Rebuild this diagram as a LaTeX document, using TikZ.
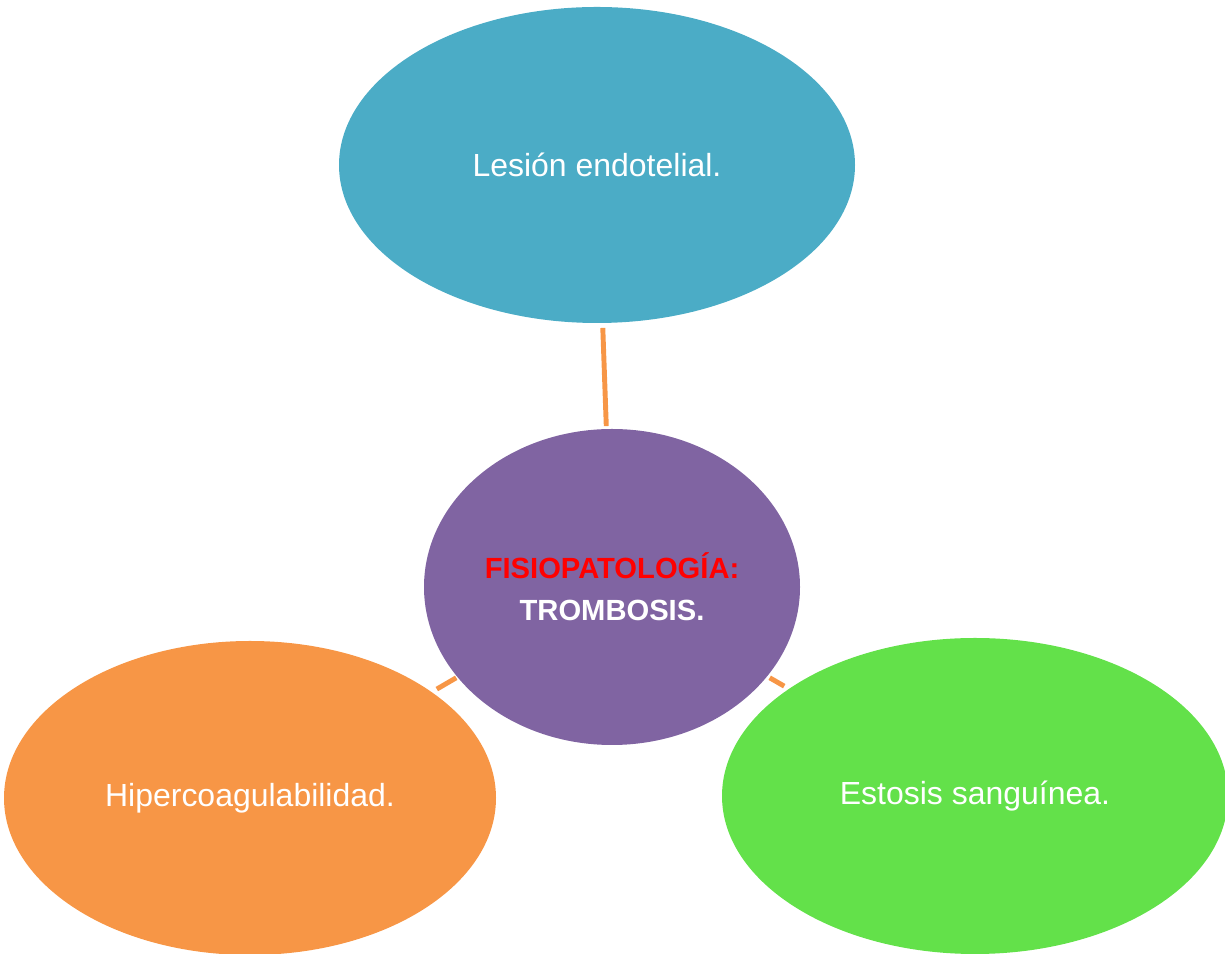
\documentclass[tikz,border=0pt]{standalone}
\usepackage{fontspec}
\setmainfont{Liberation Sans}
\usepackage{tikz}
\usetikzlibrary{shapes,calc,positioning}
\usepackage{xcolor}
\definecolor{mteal}{HTML}{4BACC6}
\definecolor{mpurple}{HTML}{8064A2}
\definecolor{morange}{HTML}{F79646}
\definecolor{mgreen}{HTML}{63E14A}
\definecolor{mred}{HTML}{FF0000}
\tikzstyle{blob}=[ellipse, draw=none, inner sep=0pt, outer sep=0pt, text=white, font=\fontsize{18.2}{22}\selectfont]
\tikzstyle{hub}=[blob, align=center, font=\fontsize{16.6}{23.8}\selectfont\bfseries]
\tikzstyle{l1}=[line width=2.8pt, color=morange]

\begin{document}
\begin{tikzpicture}
    \useasboundingbox (0,0) rectangle (24.5,19.08);
    \clip (0,0) rectangle (24.5,19.08);

    \node (lesion) [blob, fill=mteal, minimum width=10.32cm, minimum height=6.32cm] at (11.94,15.78) {Lesión endotelial.};
    \node (fisio) [hub, fill=mpurple, minimum width=7.52cm, minimum height=6.32cm] at (12.24,7.34) {\textcolor{mred}{FISIOPATOLOGÍA:}\\TROMBOSIS.};
    \node (hiper) [blob, fill=morange, minimum width=9.84cm, minimum height=6.28cm] at (5.0,3.12) {\raisebox{-0.08cm}{Hipercoagulabilidad.}};
    \node (estasis) [blob, fill=mgreen, minimum width=10.12cm, minimum height=6.32cm] at (19.5,3.16) {Estosis sanguínea.};

    \draw[l1, shorten <=0.1cm, shorten >=0.06cm] (lesion) -- (fisio);
    \draw[l1, shorten <=0.12cm, shorten >=0.03cm] (hiper) -- (fisio);
    \draw[l1, shorten <=0.11cm, shorten >=0.06cm] (estasis) -- (fisio);
\end{tikzpicture}
\end{document}
